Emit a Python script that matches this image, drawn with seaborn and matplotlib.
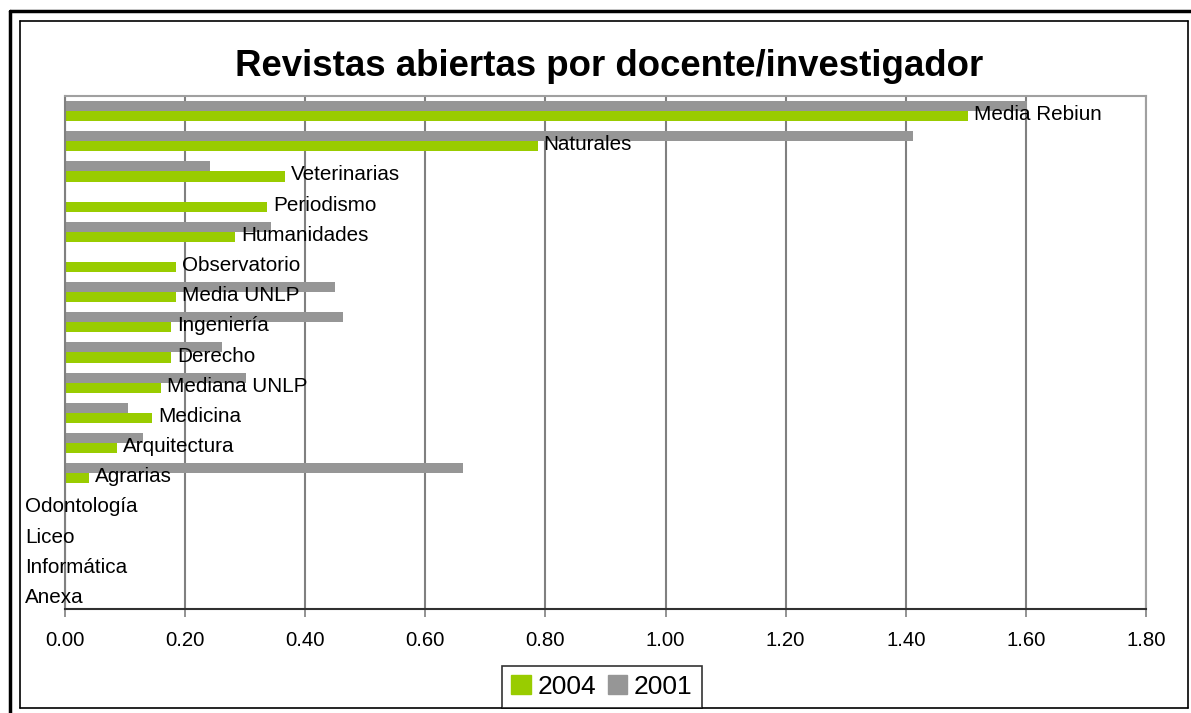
import matplotlib
matplotlib.use("Agg")
import matplotlib.pyplot as plt
from matplotlib.lines import Line2D
from matplotlib.patches import Patch
import pandas as pd
import seaborn as sns

# ─── Data ─────────────────────────────────────────────────────────────────────
categories = [
    "Media Rebiun", "Naturales", "Veterinarias", "Periodismo", "Humanidades",
    "Observatorio", "Media UNLP", "Ingeniería", "Derecho", "Mediana UNLP",
    "Medicina", "Arquitectura", "Agrarias", "Odontología", "Liceo",
    "Informática", "Anexa",
]
v2004 = [1.503, 0.787, 0.367, 0.336, 0.283, 0.185, 0.185, 0.177, 0.177,
         0.160, 0.145, 0.087, 0.040, 0, 0, 0, 0]
v2001 = [1.602, 1.412, 0.242, 0, 0.343, 0, 0.450, 0.463, 0.262,
         0.302, 0.105, 0.130, 0.663, 0, 0, 0, 0]
years = ["2001", "2004"]
colors = {"2004": "#99CC00", "2001": "#969696"}

df = pd.DataFrame({
    "categoria": categories * 2,
    "valor": v2001 + v2004,
    "anio": ["2001"] * len(categories) + ["2004"] * len(categories),
})

# ─── Figure ───────────────────────────────────────────────────────────────────
W, H = 1191, 713
sns.set_style("white")
plt.rcParams["font.family"] = ["Liberation Sans", "DejaVu Sans"]
plt.rcParams["text.color"] = "black"
plt.rcParams["xtick.color"] = "black"

fig = plt.figure(figsize=(W / 100, H / 100), dpi=100)
ax = fig.add_axes([65 / W, 1 - 609 / H, (1146 - 65) / W, (609 - 96) / H])

sns.barplot(
    data=df, x="valor", y="categoria", hue="anio", hue_order=years,
    order=categories, palette=colors, width=0.667, orient="h",
    saturation=1, ax=ax, legend=False, zorder=2, linewidth=0,
)

ax.set_xlim(0, 1.8)
ax.set_xticks([i * 0.2 for i in range(10)])
ax.set_xticklabels([f"{i * 0.2:.2f}" for i in range(10)], fontsize=14.7)
ax.set_yticks([])
ax.set_xlabel("")
ax.set_ylabel("")
ax.tick_params(axis="x", direction="out", length=6, width=1.2,
               color="#808080", labelcolor="black", pad=10, bottom=True)
ax.grid(axis="x", color="#808080", lw=1.5, zorder=0)
ax.set_axisbelow(True)
for side in ["top", "right"]:
    ax.spines[side].set_color("#A0A0A0")
    ax.spines[side].set_linewidth(1.5)
ax.spines["left"].set_color("#808080")
ax.spines["left"].set_linewidth(1.5)
ax.spines["bottom"].set_color("#303030")
ax.spines["bottom"].set_linewidth(1.5)

# category labels at the end of the 2004 bars
px = 72 / 100
for bar, name in zip(ax.containers[1], categories):
    yc = bar.get_y() + bar.get_height() / 2
    w = bar.get_width()
    off = 6 * px if w > 0 else -40 * px
    ax.annotate(name, xy=(w, yc - 0.05), xytext=(off, 0),
                textcoords="offset points", ha="left", va="center",
                fontsize=14.9, color="black", zorder=5,
                annotation_clip=False)

fig.text(609 / W, 1 - 67 / H, "Revistas abiertas por docente/investigador",
         ha="center", va="center", fontsize=26.4, fontweight="bold",
         color="black")

handles = [Patch(color=colors["2004"]), Patch(color=colors["2001"])]
leg = fig.legend(
    handles, ["2004", "2001"], loc="lower center", ncol=2,
    bbox_to_anchor=(602 / W, 5 / H), bbox_transform=fig.transFigure,
    fontsize=19, frameon=True, fancybox=False, handlelength=0.73,
    handleheight=0.73, handletextpad=0.27, columnspacing=0.42,
    borderpad=0.35, borderaxespad=0,
)
leg.get_frame().set_edgecolor("#000000")
leg.get_frame().set_linewidth(1.2)
for t in leg.get_texts():
    t.set_color("black")

# chart frames
def fline(x0, y0, x1, y1, lw):
    fig.add_artist(Line2D([x0 / W, x1 / W], [1 - y0 / H, 1 - y1 / H],
                          transform=fig.transFigure, color="black", lw=lw))

fline(10, 11, W, 11, 2.5)
fline(10, 11, 10, H, 2.5)
fline(20, 21, 1188, 21, 1.2)
fline(1188, 21, 1188, 708, 1.2)
fline(1188, 708, 20, 708, 1.2)
fline(20, 708, 20, 21, 1.2)

fig.savefig("out.png", dpi=100)
